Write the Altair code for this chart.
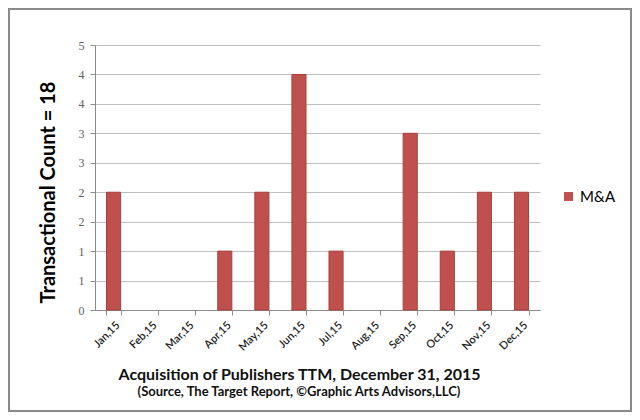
import altair as alt
import pandas as pd

months = ["Jan,15", "Feb,15", "Mar,15", "Apr,15", "May,15", "Jun,15",
          "Jul,15", "Aug,15", "Sep,15", "Oct,15", "Nov,15", "Dec,15"]
counts = [2, 0, 0, 1, 2, 4, 1, 0, 3, 1, 2, 2]
series = "M&A"
y_ticks = [0, 0.5, 1, 1.5, 2, 2.5, 3, 3.5, 4, 4.5]
main_title = "Acquisition of Publishers TTM,  December 31, 2015"
sub_title = "(Source, The Target Report, \u00a9Graphic Arts Advisors,LLC)"

df = pd.DataFrame({"month": months, "count": counts, "series": [series] * len(months)})

W, H = 445, 265
PL, PT, PR, PB = 87, 37, 92, 102

bars = alt.Chart(df).mark_bar(strokeWidth=1).encode(
    x=alt.X("month:N", sort=months, scale=alt.Scale(paddingInner=0.62, paddingOuter=0.31),
            axis=alt.Axis(title=main_title, titleFont="Lato", titleFontSize=16,
                          titleFontWeight="bold", titleColor="#111111",
                          titleX=204, titleY=56, titleBaseline="top", titleAlign="center",
                          labelAngle=-45, labelFont="Lato", labelFontSize=11,
                          labelFontWeight=600,
                          labelColor="#222222", tickBand="extent", domainColor="#8C8C8C",
                          tickColor="#8C8C8C", tickSize=5, grid=False, labelPadding=4)),
    y=alt.Y("count:Q", scale=alt.Scale(domain=[0, 4.5], nice=False),
            axis=alt.Axis(values=y_ticks, labelExpr="round(datum.value)",
                          title="Transactional Count = 18", titleFont="Lato",
                          titleFontSize=20, titleFontWeight="bold", titleColor="#000000",
                          titleX=-47, titleY=147, titleBaseline="middle", titleAngle=-90,
                          labelFont="Liberation Serif", labelFontSize=12, labelColor="#606060",
                          domainColor="#8C8C8C", tickColor="#8C8C8C", tickSize=5,
                          gridColor="#BFBFBF", labelPadding=6)),
    color=alt.Color("series:N", scale=alt.Scale(range=["#C0504D"]),
                    legend=alt.Legend(title=None, orient="none", legendX=466, legendY=144,
                                      symbolType="square", symbolSize=80, symbolStrokeWidth=0,
                                      labelFont="Lato", labelFontSize=15, labelColor="#000000")),
    stroke=alt.condition("datum.count > 0", alt.value("#A8403D"), alt.value(None))
)

subtitle = alt.Chart(alt.Data(values=[{"t": sub_title}])).mark_text(
    font="Lato", fontSize=13, fontWeight="bold", color="#111111", baseline="top", align="center"
).encode(text="t:N", x=alt.value(204), y=alt.value(341))

frame = alt.Chart(alt.Data(values=[{}])).mark_rect(fill=None, stroke="#8A8A8A", strokeWidth=2).encode(
    x=alt.value(-PL + 1), x2=alt.value(W + PR - 1),
    y=alt.value(-PT + 1), y2=alt.value(H + PB - 1)
)

chart = alt.layer(bars, subtitle, frame).properties(
    width=W, height=H,
    autosize=alt.AutoSizeParams(type="none"),
    padding={"left": PL, "top": PT, "right": PR, "bottom": PB},
).configure_view(stroke=None)

chart.save("out.html", embed_options={"renderer": "svg", "actions": False})
